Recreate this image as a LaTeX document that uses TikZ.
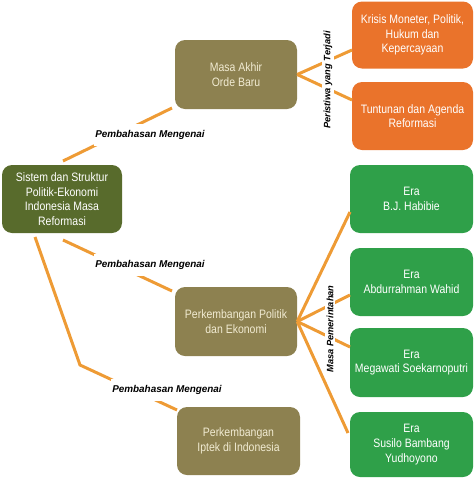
\documentclass[tikz,border=0pt]{standalone}
\usepackage{fontspec}
\setmainfont{Liberation Sans}
\newfontfamily\boxfont[FakeStretch=0.86]{Liberation Sans}
\usetikzlibrary{calc}
\definecolor{rootc}{HTML}{586B2C}
\definecolor{khaki}{HTML}{8D8150}
\definecolor{orangebox}{HTML}{EA732B}
\definecolor{greenbox}{HTML}{2FA049}
\definecolor{connc}{HTML}{EE9B35}
\definecolor{paletext}{HTML}{F1EBD2}
\tikzset{
  box/.style={rectangle, rounded corners=10pt, align=center, inner sep=2pt,
    font=\boxfont\fontsize{12.2}{14.7}\selectfont},
  rootbox/.style={box, fill=rootc, text=white, minimum width=120pt, minimum height=68pt},
  khakibox/.style={box, fill=khaki, text=paletext, minimum width=122pt, minimum height=69pt},
  orangenode/.style={box, fill=orangebox, text=white, minimum width=121pt, minimum height=67pt},
  greennode/.style={box, fill=greenbox, text=white, minimum width=123pt, minimum height=68pt},
  conn/.style={draw=connc, line width=3pt},
  lbl/.style={fill=white, font=\fontsize{9.9}{11}\selectfont\bfseries\itshape, inner xsep=1pt, inner ysep=6.5pt},
  vlbl/.style={fill=white, font=\fontsize{9.3}{11}\selectfont\bfseries\itshape, inner xsep=1pt, inner ysep=1.5pt, rotate=90}
}
\begin{document}
\begin{tikzpicture}[x=1pt,y=-1pt]
\useasboundingbox (0,0) rectangle (474,480);
% boxes
\node[rootbox] (root) at (62,199) {Sistem dan Struktur\\Politik-Ekonomi\\Indonesia Masa\\Reformasi};
\node[khakibox] (masa) at (236,74.5) {Masa Akhir\\Orde Baru};
\node[khakibox] (pol) at (236,321.5) {Perkembangan Politik\\dan Ekonomi};
\node[khakibox, minimum width=123pt, minimum height=68pt] (iptek) at (238.5,441) {Perkembangan\\Iptek di Indonesia};
\node[orangenode] (krisis) at (412.5,35) {Krisis Moneter, Politik,\\Hukum dan\\Kepercayaan};
\node[orangenode, minimum height=68pt] (tuntut) at (412.5,116) {Tuntunan dan Agenda\\Reformasi};
\node[greennode] (habibie) at (411.5,199) {Era\\B.J. Habibie};
\node[greennode] (gusdur) at (411.5,282) {Era\\Abdurrahman Wahid};
\node[greennode, minimum height=69pt] (mega) at (411.5,362.5) {Era\\Megawati Soekarnoputri};
\node[greennode, minimum height=65pt] (sby) at (411.5,444.5) {Era\\Susilo Bambang\\Yudhoyono};
% connector coordinates
\coordinate (r1) at (63,161);
\coordinate (m1) at (172,108);
\coordinate (r2) at (63,240);
\coordinate (p1) at (172,291);
\coordinate (r3) at (35,237);
\coordinate (bend) at (80,365);
\coordinate (i1) at (177,410);
\coordinate (k1) at (352,50);
\coordinate (t1) at (352,100);
\coordinate (h1) at (350,212);
\coordinate (g1) at (350,295);
\coordinate (mg1) at (350,347);
\coordinate (s1) at (348,433);
% connectors
\draw[conn] (r1) -- (m1);
\draw[conn] (r2) -- (p1);
\draw[conn, line join=miter] (r3) -- (bend) -- (i1);
\draw[conn] (masa.east) -- (k1);
\draw[conn] (masa.east) -- (t1);
\draw[conn] (pol.east) -- (h1);
\draw[conn] (pol.east) -- (g1);
\draw[conn] (pol.east) -- (mg1);
\draw[conn] (pol.east) -- (s1);
% labels
\node[lbl] (l1) at (150,135) {Pembahasan Mengenai};
\node[lbl] (l2) at (150,265) {Pembahasan Mengenai};
\node[lbl] (l3) at (167,390) {Pembahasan Mengenai};
\node[vlbl] (l4) at (328,80) {Peristiwa yang Terjadi};
\node[vlbl] (l5) at (330,329) {Masa Pemerintahan};
\end{tikzpicture}
\end{document}
